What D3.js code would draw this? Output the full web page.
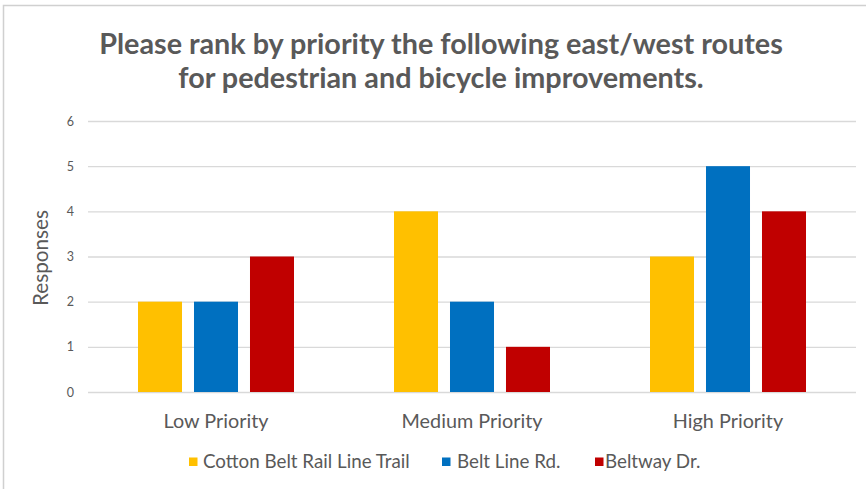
<!DOCTYPE html>
<html><head><meta charset="utf-8">
<script src="https://cdn.jsdelivr.net/npm/d3@7"></script>
<style>body{margin:0;background:#fff}svg{display:block}</style>
</head><body>
<svg id="c" width="866" height="489"></svg>
<script>
const titleLines = ["Please rank by priority the following east/west routes", "for pedestrian and bicycle improvements."];
const categories = ["Low Priority", "Medium Priority", "High Priority"];
const seriesNames = ["Cotton Belt Rail Line Trail", "Belt Line Rd.", "Beltway Dr."];
const seriesColors = ["#FFC000", "#0070C0", "#C00000"];
const cottonBelt = [2, 4, 3];
const beltLine = [2, 2, 5];
const beltway = [3, 1, 4];
const yTicks = [0, 1, 2, 3, 4, 5, 6];
const yLabel = "Responses";

const seriesValues = [cottonBelt, beltLine, beltway];
const svg = d3.select("#c");
const font = "Lato, 'Open Sans', sans-serif";
const txt = "#595959";

function fitSize(sel, base, target) {
  const w = sel.node().getComputedTextLength();
  return base * target / w;
}

svg.append("rect").attr("x", 3.5).attr("y", 5.5).attr("width", 900).attr("height", 500)
  .attr("fill", "none").attr("stroke", "#d0d0d0").attr("stroke-width", 1.5);

const x0 = d3.scaleBand().domain(categories).range([88, 856]).paddingInner(0).paddingOuter(0);
const x1 = d3.scaleBand().domain(seriesNames).range([0, x0.bandwidth()]).paddingInner(0.214).paddingOuter(0.893);
const y = d3.scaleLinear().domain([0, 6]).range([392, 121]);

// gridlines
const yAxis = d3.axisLeft(y).tickValues(yTicks).tickFormat(d3.format("d")).tickSize(-(856 - 88)).tickPadding(14);
const gy = svg.append("g").attr("transform", "translate(88,0)").call(yAxis);
gy.select(".domain").remove();
gy.selectAll(".tick line").attr("stroke", "#d9d9d9").attr("stroke-width", 1.3);
gy.selectAll(".tick text").attr("fill", txt).attr("font-family", font).attr("font-size", 12.5);

// bars
const groups = svg.append("g").selectAll("g").data(categories).join("g")
  .attr("transform", d => `translate(${x0(d)},0)`);
groups.selectAll("rect").data((c, i) => seriesNames.map((s, j) => ({s, j, v: seriesValues[j][i]})))
  .join("rect")
  .attr("x", d => x1(d.s)).attr("width", x1.bandwidth())
  .attr("y", d => y(d.v)).attr("height", d => y(0) - y(d.v))
  .attr("fill", d => seriesColors[d.j]);

// x axis
const xAxis = d3.axisBottom(x0).tickSize(0).tickPadding(22);
const gx = svg.append("g").attr("transform", "translate(0,392)").call(xAxis);
gx.select(".domain").remove();
const xt = gx.selectAll(".tick text").attr("fill", txt).attr("font-family", font).attr("font-size", 15);
const xfs = fitSize(xt.filter(d => d === "Medium Priority"), 15, 141);
xt.attr("font-size", xfs);

// y label
const yl = svg.append("text").attr("transform", "translate(48,258) rotate(-90)").attr("text-anchor", "middle")
  .attr("fill", txt).attr("font-family", font).attr("font-size", 16).text(yLabel);
yl.attr("font-size", fitSize(yl, 16, 96));

// title
const t1 = svg.append("g").selectAll("text").data(titleLines).join("text")
  .attr("x", 441).attr("y", (d, i) => 54 + i * 34).attr("text-anchor", "middle")
  .attr("fill", txt).attr("font-family", font).attr("font-weight", "bold").attr("font-size", 24).text(d => d);
t1.attr("font-size", fitSize(t1.filter((d, i) => i === 0), 24, 684));

// legend
const legSq = [189, 442, 595];
const legTx = [203, 457, 605];
const lg = svg.append("g").selectAll("g").data(seriesNames).join("g");
lg.append("rect").attr("x", (d, i) => legSq[i]).attr("y", 457.5).attr("width", 8.5).attr("height", 8.5)
  .attr("fill", (d, i) => seriesColors[i]);
const lt = lg.append("text").attr("x", (d, i) => legTx[i]).attr("y", 468).attr("fill", txt).attr("font-family", font)
  .attr("font-size", 14).text(d => d);
lt.attr("font-size", fitSize(lt.filter((d, i) => i === 0), 14, 207));
</script>
</body></html>
